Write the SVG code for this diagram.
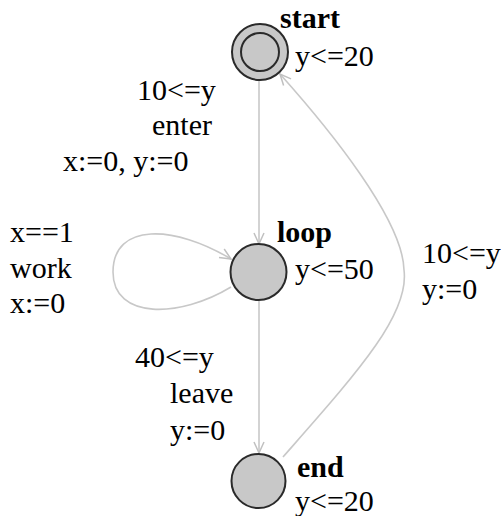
<svg xmlns="http://www.w3.org/2000/svg" width="501" height="516" viewBox="0 0 501 516">
<style>
.edge{fill:none;stroke:#c8c8c8;stroke-width:1.6}
.node{fill:#c8c8c8;stroke:#2a2a2a;stroke-width:2}
text{font-family:'Liberation Serif','DejaVu Serif','Noto Serif',Times,serif;font-size:30px;fill:#000}
.n{font-weight:bold}
</style>
<defs>
<marker id="arr" markerUnits="userSpaceOnUse" markerWidth="14" markerHeight="12" refX="12" refY="6" orient="auto">
<path d="M1,1 L12,6 L1,11" fill="none" stroke="#c0c0c0" stroke-width="1.5"/>
</marker>
</defs>
<rect width="501" height="516" fill="#fff"/>
<g id="edges">
<line class="edge" x1="259" y1="80" x2="259" y2="244" marker-end="url(#arr)"/>
<line class="edge" x1="259" y1="300" x2="259" y2="453" marker-end="url(#arr)"/>
<path class="edge" d="M283,457 C355,375 410,315 404,270 C403,220 330,130 280,74" marker-end="url(#arr)"/>
<path class="edge" d="M231,287 C180,318 113,320 113,272 C113,222 175,225 231,259" marker-end="url(#arr)"/>
</g>
<g id="start">
<circle class="node" cx="260" cy="52" r="28"/>
<circle class="node" cx="260" cy="52" r="19"/>
<text class="n" x="280" y="28">start</text>
<text x="295" y="66">y&lt;=20</text>
</g>
<g id="loop">
<circle class="node" cx="258.5" cy="272" r="28"/>
<text class="n" x="277" y="242">loop</text>
<text x="295" y="279">y&lt;=50</text>
</g>
<g id="end">
<circle class="node" cx="258.5" cy="481" r="27"/>
<text class="n" x="297" y="477">end</text>
<text x="295" y="511">y&lt;=20</text>
</g>
<g id="labels">
<text x="137" y="100">10&lt;=y</text>
<text x="152" y="135">enter</text>
<text x="63" y="171">x:=0, y:=0</text>
<text x="10" y="242">x==1</text>
<text x="10" y="278">work</text>
<text x="10" y="313">x:=0</text>
<text x="422" y="263">10&lt;=y</text>
<text x="422" y="299">y:=0</text>
<text x="135" y="367">40&lt;=y</text>
<text x="170" y="403">leave</text>
<text x="170" y="440">y:=0</text>
</g>
</svg>
